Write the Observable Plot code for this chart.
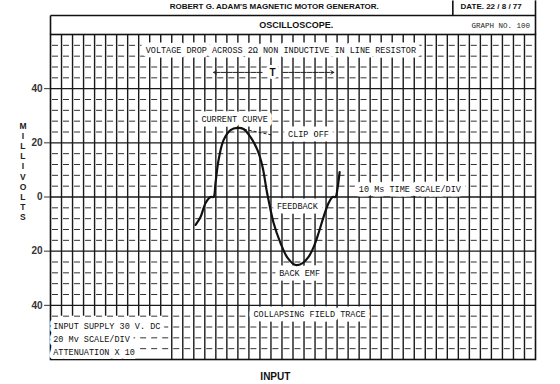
<!DOCTYPE html>
<html><head><meta charset="utf-8">
<script src="https://cdn.jsdelivr.net/npm/d3@7"></script>
<script src="https://cdn.jsdelivr.net/npm/@observablehq/plot@0.6"></script>
<style>html,body{margin:0;padding:0;background:#fff}svg{display:block}</style>
</head><body><div id="chart"></div>
<script>
// Trace (x in 10 ms divisions, y in millivolts)
const traceTime = [13.16,13.61,14.07,14.52,14.79,14.97,15.25,15.70,16.33,16.97,17.51,18.15,18.78,19.24,19.60,19.78,20.24,20.87,21.51,22.23,22.87,23.41,23.87,24.32,24.77,25.23,25.59,25.86,26.04,26.23];
const traceMv   = [-10.3,-7.4,-2.2,0,0,5.2,13.7,21.0,24.7,25.5,25.1,22.1,17.3,11.1,2.6,-1.1,-9.6,-17.0,-22.5,-25.1,-24.4,-22.1,-18.5,-13.3,-7.4,-2.2,0,0,3.3,9.2];

const yTicks = [-40,-20,0,20,40];
const yTickLabels = ["40","20","0","20","40"];
const columns = d3.range(1, 44);
const majorRows = [-40,-20,0,20,40];
const minorRows = d3.range(-56, 60, 4).filter(v => v % 20 !== 0);

const titleText = "ROBERT G. ADAM'S MAGNETIC MOTOR GENERATOR.";
const dateText = "DATE. 22 / 8 / 77";
const headerText = "OSCILLOSCOPE.";
const graphNoText = "GRAPH NO. 100";
const subtitleText = "VOLTAGE DROP ACROSS 2\u03A9 NON INDUCTIVE IN LINE RESISTOR";
const yLabel = "MILLIVOLTS";
const xLabel = "INPUT";
const infoLines = ["INPUT SUPPLY 30 V. DC", "20 Mv SCALE/DIV", "ATTENUATION X 10"];

// annotation placement (data units)
const notes = [
  {text: subtitleText, x: 20.9, y: 54.1},
  {text: "CURRENT CURVE", x: 16.7, y: 28.6},
  {text: "CLIP OFF", x: 23.4, y: 23.0},
  {text: "10 Ms TIME SCALE/DIV", x: 32.6, y: 2.9},
  {text: "FEEDBACK", x: 22.4, y: -3.3},
  {text: "BACK EMF", x: 22.6, y: -28.0},
  {text: "COLLAPSING FIELD TRACE", x: 23.5, y: -43.2}
];
const info = infoLines.map((t, i) => ({text: t, x: 0.25, y: [-47.6, -52.4, -57.4][i]}));
const yLetters = yLabel.split("").map((c, i, a) => ({c, x: -2.5, y: 9.3 + ((a.length - 1) / 2 - i) * 3.77}));
const headerLines = [
  {x1: 0, x2: 44, y1: 67.0, y2: 67.0},
  {x1: 0, x2: 0, y1: 67.0, y2: 60},
  {x1: 44, x2: 44, y1: 72.6, y2: 60},
  {x1: 36.5, x2: 36.5, y1: 72.6, y2: 67.0}
];
const period = [{x1: 19.2, x2: 14.8, y: 46.0}, {x1: 21.1, x2: 25.7, y: 46.0}];
const clipLeader = [{x1: 17.1, y1: 25.4, x2: 20.2, y2: 22.8}];

const mono = "'Liberation Mono','DejaVu Sans Mono',monospace";
const sans = "'Liberation Sans','DejaVu Sans',sans-serif";
const trace = traceTime.map((t, i) => ({t, v: traceMv[i]}));

const chart = Plot.plot({
  width: 560, height: 384,
  marginLeft: 50, marginRight: 25, marginTop: 34, marginBottom: 25,
  x: {domain: [0, 44], axis: null},
  y: {domain: [-60, 60], axis: null},
  style: {background: "#fff"},
  marks: [
    Plot.ruleY(minorRows, {stroke: "#333", strokeWidth: 1, strokeDasharray: "6,5.02", strokeDashoffset: -2}),
    Plot.ruleX(columns, {x: d => d, y1: d => d <= 10 ? -44 : -60, y2: 60, stroke: "#1a1a1a", strokeWidth: 1.4}),
    Plot.ruleY(majorRows, {stroke: "#1a1a1a", strokeWidth: 1.3}),
    Plot.frame({stroke: "#111", strokeWidth: 1.6}),
    Plot.link(headerLines, {x1: "x1", x2: "x2", y1: "y1", y2: "y2", stroke: "#111", strokeWidth: 1.6}),
    Plot.axisY(yTicks, {tickFormat: (d, i) => yTickLabels[i], tickSize: 6, tickPadding: 2, fontSize: 10, fontWeight: "bold", fill: "#333", stroke: "#333", fontFamily: sans, label: null}),
    Plot.text(yLetters, {x: "x", y: "y", text: "c", fontSize: 8.5, fontWeight: "bold", fontFamily: sans, fill: "#222"}),
    Plot.text([titleText], {x: 20.3, y: 70.2, fontSize: 8, fontWeight: "bold", fontFamily: sans, fill: "#111"}),
    Plot.text([dateText], {x: 37.2, y: 70.2, textAnchor: "start", fontSize: 8, fontWeight: "bold", fontFamily: sans, fill: "#111"}),
    Plot.text([headerText], {x: 22.3, y: 63.6, fontSize: 9, fontWeight: "bold", fontFamily: sans, fill: "#111"}),
    Plot.text([graphNoText], {x: 43.5, y: 63.4, textAnchor: "end", fontSize: 7.5, fontFamily: mono, fill: "#222"}),
    Plot.text(notes, {x: "x", y: "y", text: "text", fontSize: 8.5, fontFamily: mono, fill: "#111", stroke: "#fff", strokeWidth: 9, paintOrder: "stroke"}),
    Plot.text(info, {x: "x", y: "y", text: "text", textAnchor: "start", fontSize: 8.5, fontFamily: mono, fill: "#111", stroke: "#fff", strokeWidth: 8, paintOrder: "stroke"}),
    Plot.text(["T"], {x: 20.15, y: 46.0, fontSize: 10, fontWeight: "bold", fontFamily: sans, fill: "#111", stroke: "#fff", strokeWidth: 6, paintOrder: "stroke"}),
    Plot.arrow(period, {x1: "x1", x2: "x2", y1: "y", y2: "y", stroke: "#222", strokeWidth: 1, headLength: 5, strokeDasharray: "5,1"}),
    Plot.link(clipLeader, {x1: "x1", y1: "y1", x2: "x2", y2: "y2", stroke: "#222", strokeWidth: 1, strokeDasharray: "3,2"}),
    Plot.line(trace, {x: "t", y: "v", curve: "catmull-rom", stroke: "#111", strokeWidth: 2.2}),
    Plot.text([xLabel], {x: 20.4, y: -66.3, fontSize: 10, fontWeight: "bold", fontFamily: sans, fill: "#111"})
  ]
});
document.getElementById("chart").append(chart);
</script>
</body></html>
